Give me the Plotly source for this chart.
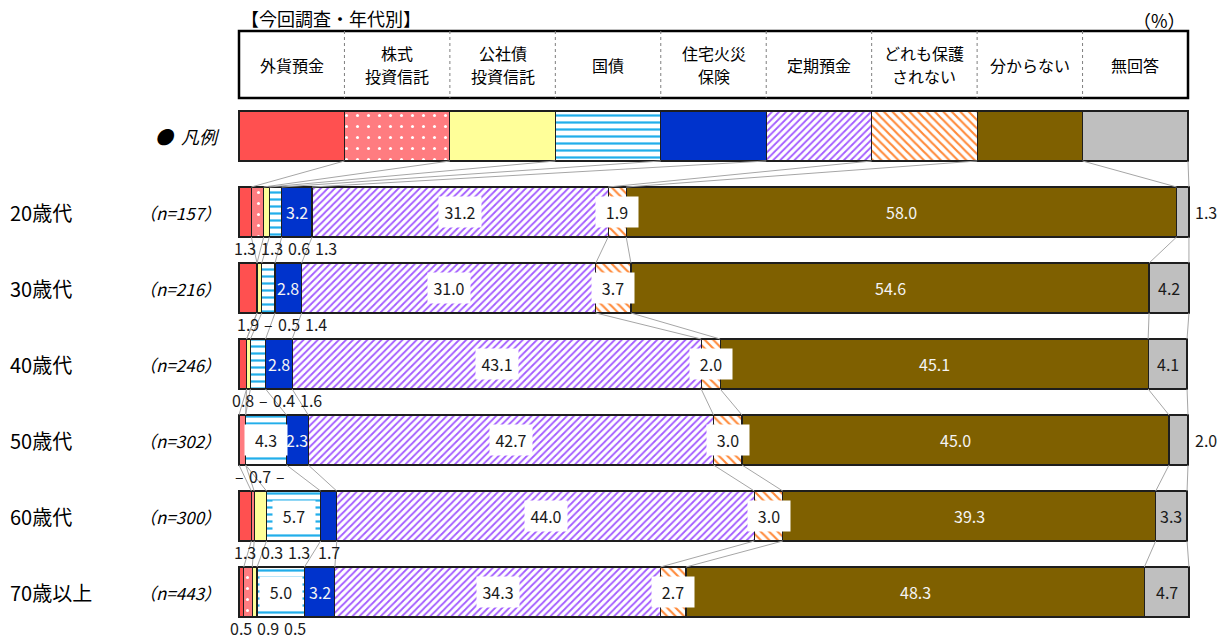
import plotly.graph_objects as go

# ---------------- data ----------------
categories = ["外貨預金", "株式<br>投資信託", "公社債<br>投資信託", "国債", "住宅火災<br>保険",
              "定期預金", "どれも保護<br>されない", "分からない", "無回答"]
groups = ["20歳代", "30歳代", "40歳代", "50歳代", "60歳代", "70歳以上"]
sample_n = [157, 216, 246, 302, 300, 443]

gaika_yokin  = [1.3, 1.9, 0.8, 0.0, 1.3, 0.5]
kabushiki    = [1.3, 0.0, 0.0, 0.7, 0.3, 0.9]
koshasai     = [0.6, 0.5, 0.4, 0.0, 1.3, 0.5]
kokusai      = [1.3, 1.4, 1.6, 4.3, 5.7, 5.0]
jutaku_kasai = [3.2, 2.8, 2.8, 2.3, 1.7, 3.2]
teiki_yokin  = [31.2, 31.0, 43.1, 42.7, 44.0, 34.3]
doremo       = [1.9, 3.7, 2.0, 3.0, 3.0, 2.7]
wakaranai    = [58.0, 54.6, 45.1, 45.0, 39.3, 48.3]
mukaito      = [1.3, 4.2, 4.1, 2.0, 3.3, 4.7]

series = [gaika_yokin, kabushiki, koshasai, kokusai, jutaku_kasai,
          teiki_yokin, doremo, wakaranai, mukaito]

title_text = "【今回調査・年代別】"
unit_text = "（%）"
legend_label = "●  凡例"

# ---------------- layout constants ----------------
W, H = 1230, 639
PLOT_L, PLOT_R = 239, 1188
PX = (PLOT_R - PLOT_L) / 100.0       # px per x unit
ROW_PX, ROW0_PX = 76, 136            # px per row, centre of legend row
BAR_W = 50 / ROW_PX
FONT = "Noto Sans CJK JP"


def xp(px):
    return (px - PLOT_L) / PX


def yp(py):
    return (py - ROW0_PX) / ROW_PX


styles = [
    dict(color="#FF5050"),
    dict(color="#FF7C80", pattern=dict(shape=".", fgcolor="white", bgcolor="#FF7C80",
                                       size=11, solidity=0.06, fillmode="replace")),
    dict(color="#FFFF99"),
    dict(color="#FFFFFF", pattern=dict(shape="-", fgcolor="#22AEEA", bgcolor="white",
                                       size=7, solidity=0.32, fillmode="replace")),
    dict(color="#0033CC"),
    dict(color="#FFFFFF", pattern=dict(shape="/", fgcolor="#A35CFF", bgcolor="white",
                                       size=5, solidity=0.36, fillmode="replace")),
    dict(color="#FFFFFF", pattern=dict(shape="\\", fgcolor="#FF8A3A", bgcolor="white",
                                       size=6, solidity=0.36, fillmode="replace")),
    dict(color="#7F6000"),
    dict(color="#BFBFBF"),
]

rows = list(range(len(groups) + 1))          # row 0 = legend bar
legend_share = 100.0 / len(categories)

fig = go.Figure()

# ---------------- bars ----------------
for k, cat in enumerate(categories):
    st = styles[k]
    marker = dict(color=st["color"], line=dict(color="#1E1E1E", width=1.2))
    if "pattern" in st:
        marker["pattern"] = st["pattern"]
    fig.add_trace(go.Bar(
        x=[legend_share] + series[k],
        y=rows,
        width=[BAR_W] * len(rows),
        orientation="h",
        marker=marker,
        name=cat.replace("<br>", ""),
        hoverinfo="skip",
        showlegend=False,
    ))

# ---------------- connector lines ----------------
cums = []
leg = [legend_share * (i + 1) for i in range(len(categories))]
cums.append(leg)
for g in range(len(groups)):
    c, acc = [], 0.0
    for k in range(len(categories)):
        acc += series[k][g]
        c.append(acc)
    cums.append(c)

lx, ly = [], []
for r in range(len(rows) - 1):
    for k in range(len(categories)):
        lx += [cums[r][k], cums[r + 1][k], None]
        ly += [rows[r] + BAR_W / 2, rows[r + 1] - BAR_W / 2, None]
fig.add_trace(go.Scatter(x=lx, y=ly, mode="lines", line=dict(color="#A6A6A6", width=1),
                         hoverinfo="skip", showlegend=False))

annotations = []


def ann(x, y, text, size=16, color="#1A1A1A", **kw):
    d = dict(x=x, y=y, xref="x", yref="y", text=text, showarrow=False,
             font=dict(family=FONT, size=size, color=color))
    d.update(kw)
    annotations.append(d)


# ---------------- value labels ----------------
NUM_W, DASH_W, GAP = 23, 10, 4
for g in range(len(groups)):
    row = g + 1
    acc = 0.0
    below = []
    for k in range(len(categories)):
        v = series[k][g]
        centre = acc + v / 2
        acc += v
        txt = "–" if v == 0 else f"{v:.1f}"
        if k <= 4 and v < 2:
            below.append((txt, centre))
            continue
        if k == 8 and v < 3:
            ann(100 + 18 / PX, row, txt)
        elif k in (3, 5, 6):
            ann(centre, row, txt, bgcolor="white", width=32, height=20, borderpad=5)
        elif k in (4, 7):
            ann(centre, row, txt, color="#F4F4F4")
        else:
            ann(centre, row, txt)
    # spread small labels under the bar
    cursor = 225.0
    for txt, centre in below:
        w = DASH_W if txt == "–" else NUM_W
        cpx = max(cursor + w / 2, PLOT_L + centre * PX)
        ann(xp(cpx), row + BAR_W / 2 + 11 / ROW_PX, txt, height=16, borderpad=0)
        cursor = cpx + w / 2 + GAP

# ---------------- row labels ----------------
ann(xp(222), 0, "<i>" + legend_label + "</i>", size=18, color="black", xanchor="right")
for g, name in enumerate(groups):
    ann(xp(8), g + 1, name, size=20, color="black", xanchor="left")
    ann(xp(223), g + 1, f"<i>（n={sample_n[g]}）</i>", size=17, color="black",
        xanchor="right")

# ---------------- header table ----------------
shapes = []
top, bot = yp(31), yp(98)
shapes.append(dict(type="rect", xref="x", yref="y", x0=0, x1=100, y0=top, y1=bot,
                   line=dict(color="black", width=2.5), fillcolor="white", layer="below"))
for k in range(1, len(categories)):
    xk = legend_share * k
    shapes.append(dict(type="line", xref="x", yref="y", x0=xk, x1=xk, y0=top, y1=bot,
                       line=dict(color="#7F7F7F", width=1, dash="dot")))
LINE_STEP = 23 / ROW_PX
for k, cat in enumerate(categories):
    parts = cat.split("<br>")
    mid = (top + bot) / 2
    for j, part in enumerate(parts):
        yy = mid + (j - (len(parts) - 1) / 2) * LINE_STEP
        ann(legend_share * (k + 0.5), yy, part, size=16, color="black", height=20,
            borderpad=0)

ann(0, yp(18), title_text, size=18, color="black", xanchor="left")
ann(100, yp(20), unit_text, size=18, color="black", xanchor="right")

fig.update_layout(
    width=W, height=H,
    margin=dict(l=0, r=0, t=0, b=0),
    paper_bgcolor="white", plot_bgcolor="white",
    barmode="stack",
    xaxis=dict(range=[xp(0), xp(W)], visible=False, fixedrange=True),
    yaxis=dict(range=[yp(H), yp(0)], visible=False, fixedrange=True),
    annotations=annotations,
    shapes=shapes,
    font=dict(family=FONT),
)

fig.write_html("out.html", config={"displayModeBar": False},
               post_script="document.body.style.margin='0';document.body.style.overflow='hidden';")
